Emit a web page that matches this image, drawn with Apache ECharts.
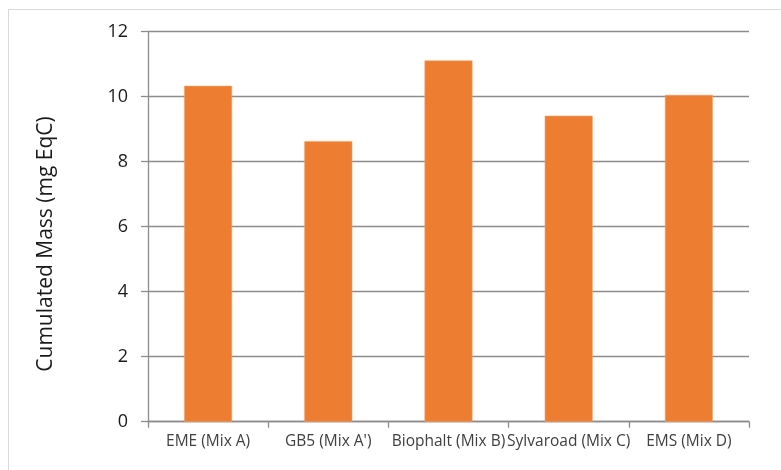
<!DOCTYPE html>
<html>
<head>
<meta charset="utf-8">
<script src="https://cdn.jsdelivr.net/npm/echarts@6/dist/echarts.min.js"></script>
<style>
  html, body { margin: 0; padding: 0; background: #fff; }
  #chart { width: 781px; height: 470px; }
</style>
</head>
<body>
<div id="chart"></div>
<script>
// Mixtures compared
const categories = ['EME (Mix A)', "GB5 (Mix A')", 'Biophalt (Mix B)', 'Sylvaroad (Mix C)', 'EMS (Mix D)'];
// Cumulated mass per mixture (mg EqC)
const cumulatedMass = [10.33, 8.63, 11.11, 9.41, 10.05];
// Value axis ticks
const yTicks = [0, 2, 4, 6, 8, 10, 12];
const yAxisTitle = 'Cumulated Mass (mg EqC)';

const chart = echarts.init(document.getElementById('chart'), null, { renderer: 'canvas' });
const textColor = '#404040';
const lineColor = '#8c8c8c';
const fontFamily = '"Open Sans", "Liberation Sans", sans-serif';

chart.setOption({
  animation: false,
  backgroundColor: '#ffffff',
  graphic: [
    {
      type: 'polyline',
      silent: true,
      shape: { points: [[8.5, 470], [8.5, 9.5], [781, 9.5]] },
      style: { stroke: '#d9d9d9', lineWidth: 1, fill: null }
    },
    {
      type: 'text',
      silent: true,
      x: 46,
      y: 244,
      rotation: Math.PI / 2,
      style: {
        text: yAxisTitle,
        fill: '#1a1a1a',
        fontSize: 21,
        fontFamily: fontFamily,
        align: 'center',
        verticalAlign: 'middle'
      }
    }
  ],
  grid: { left: 148, right: 32, top: 31.5, bottom: 48.3, containLabel: false },
  xAxis: {
    type: 'category',
    data: categories,
    axisLine: { show: true, lineStyle: { color: lineColor, width: 1.3 } },
    axisTick: { show: true, length: 6, alignWithLabel: false, lineStyle: { color: lineColor, width: 1.3 } },
    axisLabel: { color: textColor, fontSize: 15.5, fontFamily: fontFamily, margin: 12, interval: 0 },
    splitLine: { show: false }
  },
  yAxis: {
    type: 'value',
    min: yTicks[0],
    max: yTicks[yTicks.length - 1],
    interval: 2,
    axisLine: { show: true, lineStyle: { color: lineColor, width: 1.3 } },
    axisTick: { show: true, length: 7, lineStyle: { color: lineColor, width: 1.3 } },
    axisLabel: { color: '#1a1a1a', fontSize: 18, fontFamily: fontFamily, margin: 20 },
    splitLine: { show: true, lineStyle: { color: lineColor, width: 1.3 } }
  },
  series: [
    {
      type: 'bar',
      data: cumulatedMass,
      barWidth: 48,
      itemStyle: { color: '#ED7D31', borderColor: '#f3a36d', borderWidth: 0.6 }
    }
  ]
});
</script>
</body>
</html>
